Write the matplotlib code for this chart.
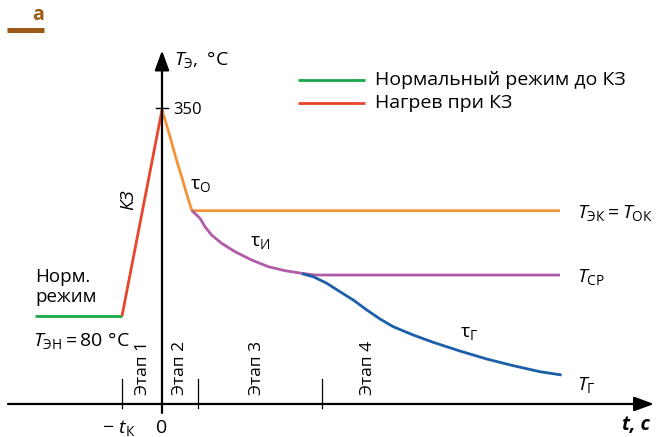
import matplotlib
matplotlib.use("Agg")
import matplotlib.pyplot as plt
from matplotlib.lines import Line2D

plt.rcParams['font.family'] = ['Open Sans', 'DejaVu Sans']
plt.rcParams['mathtext.fontset'] = 'custom'
plt.rcParams['mathtext.rm'] = 'Open Sans'
plt.rcParams['mathtext.it'] = 'Open Sans:italic'
plt.rcParams['mathtext.bf'] = 'Open Sans:bold'

# ---- data (t in units of t_K, T in °C, schematic) ----
normal_t = [-3.175, -1.0]
normal_T = [80, 80]

heat_t = [-1.0, 0.0]
heat_T = [80, 350]

orange_t = [0.0, 0.1, 0.2, 0.3, 0.4, 0.5, 0.6, 0.68, 0.75, 9.95]
orange_T = [350, 333, 315, 296, 278, 261, 243, 229, 218, 218]

purple_t = [0.75, 0.95, 1.075, 1.24, 1.49, 1.825, 2.24, 2.66, 3.075, 3.49, 3.825, 9.95]
purple_T = [218, 208.1, 197.0, 186.2, 175.3, 164.3, 153.4, 144.6, 139.4, 136.0, 133.7, 133.7]

blue_t = [3.5, 3.78, 4.12, 4.45, 4.78, 5.12, 5.45, 5.78, 6.28, 6.78, 7.45, 8.12, 8.78, 9.45, 9.99]
blue_T = [135.5, 131.5, 122.9, 111.8, 101.0, 87.9, 76.1, 66.0, 55.1, 45.5, 34.1, 23.6, 14.9, 7.0, 2.7]

stage_bounds = [-1.0, 0.9, 3.99]
stage_labels = ['Этап 1', 'Этап 2', 'Этап 3', 'Этап 4']
stage_label_t = [-0.475, 0.45, 2.375, 5.15]

legend_labels = ['Нормальный режим до КЗ', 'Нагрев при КЗ']

T_peak = 350
T_axis = -35.3

GREEN = '#1aa84a'
RED = '#e8452c'
ORANGE = '#f39236'
PURPLE = '#b05ca8'
BLUE = '#1a5fa8'
BROWN = '#9b5a1a'

fig = plt.figure(figsize=(6.56, 4.37), dpi=100)
ax = fig.add_axes([0, 0, 1, 1])
ax.set_xlim(-4.05, 12.35)
ax.set_ylim(-78.59, 494.17)
ax.axis('off')

lw = 2.0
ax.plot(normal_t, normal_T, color=GREEN, lw=lw, solid_capstyle='butt')
ax.plot(orange_t, orange_T, color=ORANGE, lw=lw, solid_capstyle='butt')
ax.plot(purple_t, purple_T, color=PURPLE, lw=lw, solid_capstyle='butt')
ax.plot(blue_t, blue_T, color=BLUE, lw=lw, solid_capstyle='butt')
ax.plot(heat_t, heat_T, color=RED, lw=lw, solid_capstyle='butt')

# axes arrows
ax.annotate('', xy=(12.3, T_axis), xytext=(-3.85, T_axis),
            arrowprops=dict(arrowstyle='-|>,head_length=0.6,head_width=0.22',
                            mutation_scale=20, lw=1.6, color='black',
                            shrinkA=0, shrinkB=0))
ax.annotate('', xy=(0, 428), xytext=(0, -47),
            arrowprops=dict(arrowstyle='-|>,head_length=0.6,head_width=0.22',
                            mutation_scale=20, lw=1.6, color='black',
                            shrinkA=0, shrinkB=0))

# tick at 350
ax.plot([-0.15, 0.15], [T_peak + 2, T_peak + 2], color='black', lw=1.0)
ax.text(0.275, T_peak, str(T_peak), fontsize=12, ha='left', va='center')

# stage boundaries
for b in stage_bounds:
    ax.plot([b, b], [-2.6, -40.6], color='black', lw=0.9)
for lab, tt in zip(stage_labels, stage_label_t):
    ax.text(tt, -23.5, lab, rotation=90, fontsize=12.5, ha='center', va='bottom')

fs = 14
ax.text(0.3, 416, r'$T_{\mathrm{Э}}\mathrm{,\ °C}$', fontsize=fs, ha='left', va='center')
ax.text(-0.85, 232, 'КЗ', rotation=90, fontsize=13.5, style='italic', ha='center', va='center')
ax.text(0.7, 252, r'$\mathrm{τ}_{\mathrm{О}}$', fontsize=fs, ha='left', va='center')
ax.text(2.2, 177, r'$\mathrm{τ}_{\mathrm{И}}$', fontsize=fs, ha='left', va='center')
ax.text(7.45, 58, r'$\mathrm{τ}_{\mathrm{Г}}$', fontsize=fs, ha='left', va='center')
ax.text(10.375, 215, r'$T_{\mathrm{ЭК}} = T_{\mathrm{ОК}}$', fontsize=fs, ha='left', va='center')
ax.text(10.375, 131, r'$T_{\mathrm{СР}}$', fontsize=fs, ha='left', va='center')
ax.text(10.375, -10.4, r'$T_{\mathrm{Г}}$', fontsize=fs, ha='left', va='center')
ax.text(-3.175, 118, 'Норм.\nрежим', fontsize=13.5, ha='left', va='center', linespacing=1.1)
ax.text(-3.225, 48.5, r'$T_{\mathrm{ЭН}} = 80\ \mathrm{°C}$', fontsize=fs, ha='left', va='center')
ax.text(-1.07, -66.8, r'$-\ t_{\mathrm{К}}$', fontsize=fs, ha='center', va='center')
ax.text(0, -66.8, '0', fontsize=fs, ha='center', va='center')
ax.text(12.2, -63, 't, с', fontsize=fs, fontweight='bold', style='italic',
        ha='right', va='center')

# legend
leg_T = [389.3, 359.2]
for lab, col, yy in zip(legend_labels, [GREEN, RED], leg_T):
    ax.plot([3.4, 5.075], [yy, yy], color=col, lw=lw, solid_capstyle='butt')
    ax.text(5.325, yy, lab, fontsize=fs, ha='left', va='center')

# panel label
fig.text(38 / 656, 1 - 15 / 437, 'а', color=BROWN, fontsize=14, fontweight='bold',
         ha='center', va='center')
fig.add_artist(Line2D([7 / 656, 44 / 656], [1 - 29.5 / 437, 1 - 29.5 / 437],
                      color=BROWN, lw=3.6, solid_capstyle='butt',
                      transform=fig.transFigure))

fig.savefig('out.png', dpi=100)
